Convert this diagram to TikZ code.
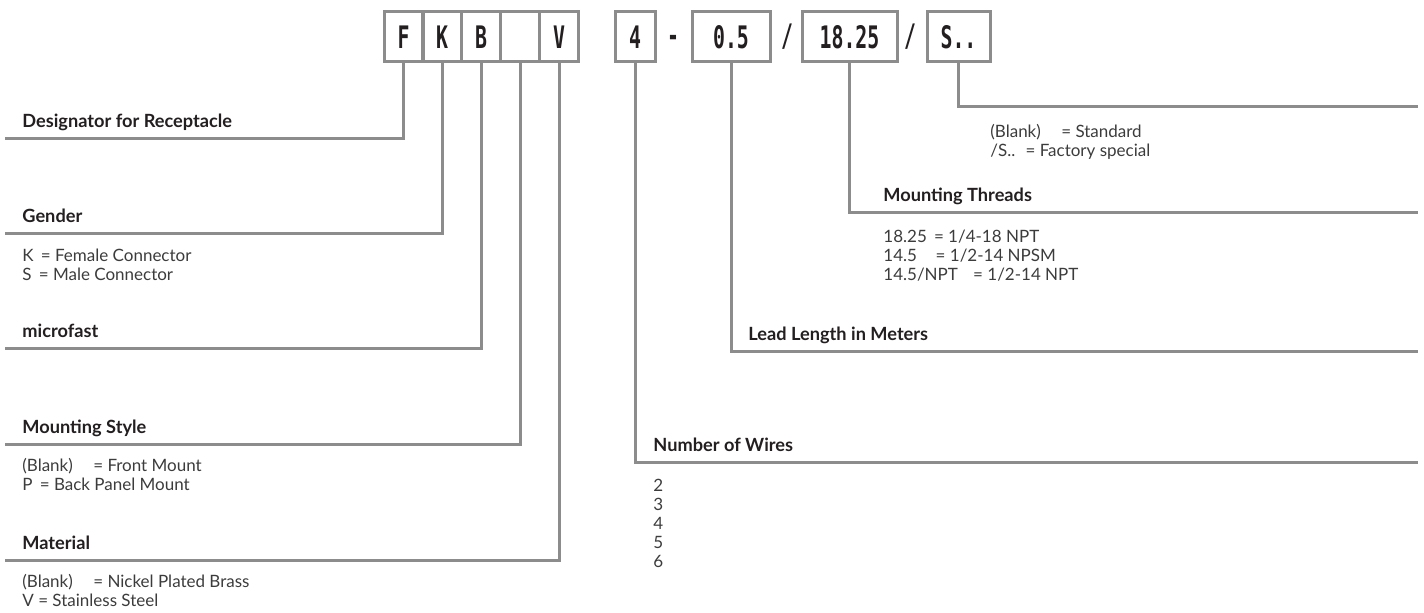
\documentclass[tikz,border=0pt]{standalone}
\usepackage{fontspec}
\setmainfont{Lato}
\newfontfamily\codefont[FakeStretch=0.64]{DejaVu Sans Mono}
\definecolor{linegray}{RGB}{140,140,140}
\definecolor{inkblack}{RGB}{35,31,32}
\definecolor{inkgray}{RGB}{60,60,60}

\begin{document}
\begin{tikzpicture}[x=0.5pt,y=-0.5pt]
\tikzset{codebox/.style = {draw=linegray, line width=1.5pt, minimum height=25pt, inner sep=0pt, text=inkblack, font=\codefont\bfseries\fontsize{15.5}{15.5}\selectfont}}
\tikzset{sep/.style = {anchor=base, inner sep=0pt, text=inkblack, font=\codefont\bfseries\fontsize{15.5}{15.5}\selectfont}}
\tikzset{lead/.style = {draw=linegray, line width=1.5pt}}
\tikzset{title/.style = {anchor=base west, inner sep=0pt, text=inkblack, font=\bfseries\fontsize{9.1}{10}\selectfont}}
\tikzset{item/.style = {anchor=base west, inner sep=0pt, text=inkgray, font=\fontsize{8.5}{9.5}\selectfont}}
\useasboundingbox (0,0) rectangle (1424,613);

% code boxes
\node[codebox, minimum width=19.5pt] (bF) at (403.5,37) {F};
\node[codebox, minimum width=19.5pt] (bK) at (442,37) {K};
\node[codebox, minimum width=19.5pt] (bB) at (481,37) {B};
\node[codebox, minimum width=19.5pt] (bP) at (520,37) {};
\node[codebox, minimum width=19.5pt] (bV) at (559,37) {V};
\node[codebox, minimum width=20pt] (bW) at (635,37) {4};
\node[sep] (s1) at (673,47) {-};
\node[codebox, minimum width=39pt] (bL) at (731,37) {0.5};
\node[sep] (s2) at (787,47) {/};
\node[codebox, minimum width=47.5pt] (bT) at (849.5,37) {18.25};
\node[sep] (s3) at (910,47) {/};
\node[codebox, minimum width=31.5pt] (bS) at (958.5,37) {S..};

% left side
\coordinate (eF) at (5,139);
\coordinate (eK) at (5,234);
\coordinate (eB) at (5,349);
\coordinate (eP) at (5,445);
\coordinate (eV) at (5,561);
\node[title] (tF) at (22,128) {Designator for Receptacle};
\node[title] (tK) at (22,223) {Gender};
\node[item] (k1) at (22,262) {K \,= Female Connector};
\node[item] (k2) at (22,281) {S \,= Male Connector};
\node[title] (tB) at (22,338) {microfast};
\node[title] (tP) at (22,434) {Mounting Style};
\node[item] (p1) at (22,472) {(Blank)\hspace{1.2em}= Front Mount};
\node[item] (p2) at (22,491) {P \,= Back Panel Mount};
\node[title] (tV) at (22,550) {Material};
\node[item] (v1) at (22,588) {(Blank)\hspace{1.2em}= Nickel Plated Brass};
\node[item] (v2) at (22,607) {V = Stainless Steel};

\draw[lead] (bF.south) |- (eF);
\draw[lead] (bK.south) |- (eK);
\draw[lead] (bB.south) |- (eB);
\draw[lead] (bP.south) |- (eP);
\draw[lead] (bV.south) |- (eV);

% right side
\coordinate (eS) at (1418,107);
\coordinate (eT) at (1418,213);
\coordinate (eL) at (1418,352);
\coordinate (eW) at (1418,463);
\node[item] (sa) at (990,138) {(Blank)\hspace{1.2em}= Standard};
\node[item] (sb) at (990,157) {/S..\hspace{0.6em}= Factory special};
\node[title] (tT) at (883,202) {Mounting Threads};
\node[item] (ta) at (883,243) {18.25 \,= 1/4-18 NPT};
\node[item] (tb) at (883,262) {14.5\hspace{1.1em}= 1/2-14 NPSM};
\node[item] (tc) at (883,281) {14.5/NPT\hspace{0.9em}= 1/2-14 NPT};
\node[title] (tL) at (748,341) {Lead Length in Meters};
\node[title] (tW) at (653,452) {Number of Wires};
\foreach \n [count=\i from 0] in {2,...,6}
  \node[item] (w\n) at (653,492+19*\i) {\n};

\draw[lead] (bS.south) |- (eS);
\draw[lead] (bT.south) |- (eT);
\draw[lead] (bL.south) |- (eL);
\draw[lead] (bW.south) |- (eW);
\end{tikzpicture}
\end{document}
